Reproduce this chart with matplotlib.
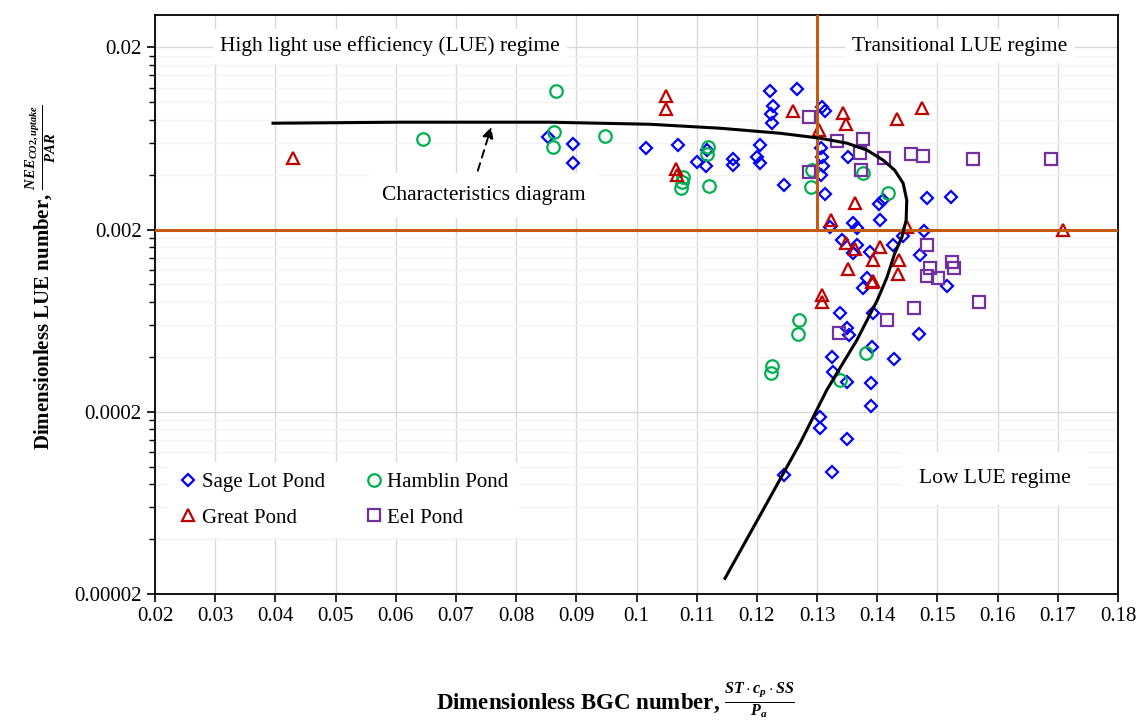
import numpy as np
import matplotlib
matplotlib.use("Agg")
import matplotlib.pyplot as plt
from matplotlib.ticker import FixedLocator, NullFormatter

plt.rcParams['font.family'] = ['Liberation Serif', 'DejaVu Serif']
plt.rcParams['mathtext.fontset'] = 'custom'
plt.rcParams['mathtext.it'] = 'Liberation Serif:bold:italic'
plt.rcParams['mathtext.rm'] = 'Liberation Serif:bold'
plt.rcParams['mathtext.bf'] = 'Liberation Serif:bold'

# ---- data (BGC number, LUE number) ----
sage_x = [0.0853, 0.0894, 0.0894, 0.1016, 0.1069, 0.1100, 0.1115, 0.1117, 0.1160, 0.1160,
          0.1205, 0.1200, 0.1205, 0.1222, 0.1227, 0.1223, 0.1225, 0.1267, 0.1245, 0.1308,
          0.1313, 0.1306, 0.1308, 0.1310, 0.1306, 0.1351, 0.1313, 0.1403, 0.1410, 0.1483,
          0.1522, 0.1405, 0.1360, 0.1366, 0.1321, 0.1478, 0.1341, 0.1366, 0.1360, 0.1388,
          0.1426, 0.1443, 0.1471, 0.1516, 0.1383, 0.1376, 0.1338, 0.1393, 0.1350, 0.1353,
          0.1469, 0.1391, 0.1428, 0.1325, 0.1326, 0.1350, 0.1390, 0.1390, 0.1305, 0.1305,
          0.1350, 0.1325, 0.1245]
sage_y = [0.00642, 0.00587, 0.00462, 0.00559, 0.00580, 0.00468, 0.00445, 0.00545, 0.00486, 0.00451,
          0.00580, 0.00498, 0.00462, 0.01147, 0.00949, 0.00858, 0.00766, 0.01177, 0.00350, 0.00938,
          0.00891, 0.00559, 0.00498, 0.00445, 0.00397, 0.00498, 0.00312, 0.00275, 0.00290, 0.00297,
          0.00301, 0.00225, 0.00217, 0.00203, 0.00206, 0.00196, 0.00175, 0.00164, 0.00148, 0.00150,
          0.00164, 0.00184, 0.00145, 0.000978, 0.00109, 0.000953, 0.000695, 0.000695, 0.000575, 0.000526,
          0.000533, 0.000452, 0.000389, 0.000399, 0.000330, 0.000291, 0.000287, 0.000215, 0.000187, 0.000163,
          0.000141, 0.0000933, 0.0000898]

hamblin_x = [0.0645, 0.0866, 0.0863, 0.0861, 0.0948, 0.1119, 0.1117, 0.1077, 0.1076, 0.1074,
             0.1120, 0.1292, 0.1290, 0.1376, 0.1418, 0.1270, 0.1268, 0.1225, 0.1223, 0.1381,
             0.1338]
hamblin_y = [0.00626, 0.01147, 0.00684, 0.00566, 0.00650, 0.00566, 0.00518, 0.00387, 0.00364, 0.00337,
             0.00346, 0.00423, 0.00341, 0.00407, 0.00316, 0.000636, 0.000533, 0.000356, 0.000326, 0.000419,
             0.000298]

great_x = [0.0429, 0.1049, 0.1049, 0.1066, 0.1067, 0.1260, 0.1303, 0.1343, 0.1348, 0.1433,
           0.1474, 0.1363, 0.1323, 0.1449, 0.1709, 0.1348, 0.1363, 0.1405, 0.1393, 0.1436,
           0.1434, 0.1351, 0.1393, 0.1391, 0.1308, 0.1308]
great_y = [0.00492, 0.01077, 0.00914, 0.00428, 0.00397, 0.00891, 0.00701, 0.00869, 0.00756, 0.00805,
           0.00926, 0.00279, 0.00225, 0.00206, 0.00198, 0.00168, 0.00156, 0.00160, 0.00136, 0.00136,
           0.00114, 0.00121, 0.00105, 0.00103, 0.000872, 0.000799]

eel_x = [0.1287, 0.1287, 0.1333, 0.1376, 0.1371, 0.1411, 0.1456, 0.1476, 0.1559, 0.1689,
         0.1373, 0.1483, 0.1488, 0.1483, 0.1501, 0.1524, 0.1527, 0.1569, 0.1461, 0.1416,
         0.1336]
eel_y = [0.00826, 0.00412, 0.00610, 0.00626, 0.00524, 0.00492, 0.00518, 0.00505, 0.00486, 0.00486,
         0.00423, 0.00164, 0.00123, 0.00111, 0.00109, 0.00132, 0.00123, 0.000799, 0.000740, 0.000636,
         0.000540]

# characteristics diagram curve
curve_x = [0.0396, 0.0607, 0.0856, 0.1022, 0.1139, 0.1238, 0.1305, 0.1350, 0.1383, 0.1410,
           0.1429, 0.1443, 0.1449, 0.1448, 0.1441, 0.1429, 0.1416, 0.1400, 0.1383, 0.1366,
           0.1343, 0.1316, 0.1272, 0.1210, 0.1147]
curve_y = [0.00766, 0.00776, 0.00776, 0.00756, 0.00719, 0.00675, 0.00634, 0.00595, 0.00545, 0.00480,
           0.00423, 0.00359, 0.00290, 0.00225, 0.00182, 0.00148, 0.00109, 0.000819, 0.000636, 0.000494,
           0.000370, 0.000263, 0.000135, 0.0000577, 0.0000244]

x_ticks = [0.02, 0.03, 0.04, 0.05, 0.06, 0.07, 0.08, 0.09, 0.1, 0.11, 0.12, 0.13, 0.14, 0.15, 0.16, 0.17, 0.18]
y_ticks = [0.00002, 0.0002, 0.002, 0.02]
y_tick_labels = ['0.00002', '0.0002', '0.002', '0.02']
bgc_threshold = 0.13
lue_threshold = 0.002

fig = plt.figure(figsize=(11.4, 7.21), dpi=100)
ax = fig.add_axes([0.136, 0.176, 0.8447, 0.803])

ax.set_yscale('log')
ax.set_xlim(0.02, 0.18)
ax.set_ylim(0.00002, 0.03)

# ticks & grid
ax.set_xticks(x_ticks)
ax.set_xticklabels([f'{t:g}' for t in x_ticks])
ax.yaxis.set_major_locator(FixedLocator(y_ticks))
ax.set_yticklabels(y_tick_labels)
minor_y = [m * 2 * 10.0 ** e for e in range(-5, -1) for m in range(2, 10)]
ax.yaxis.set_minor_locator(FixedLocator(minor_y))
ax.yaxis.set_minor_formatter(NullFormatter())
ax.tick_params(axis='both', which='major', labelsize=15, direction='out', length=6, width=1.2)
ax.tick_params(axis='y', which='minor', direction='out', length=4, width=1.0)
ax.tick_params(axis='x', which='minor', bottom=False)
ax.grid(True, which='major', axis='x', color='#D9D9D9', linewidth=1.0)
ax.grid(True, which='major', axis='y', color='#D9D9D9', linewidth=1.0)
ax.grid(True, which='minor', axis='y', color='#F3F3F3', linewidth=1.0)
ax.set_axisbelow(True)
for sp in ax.spines.values():
    sp.set_linewidth(1.3)

# regime borders
ax.axhline(lue_threshold, color='#C55A11', linewidth=2.2, zorder=4)
ax.plot([bgc_threshold, bgc_threshold], [lue_threshold, 0.03], color='#C55A11', linewidth=2.2, zorder=4)

# data
mk = dict(linestyle='none', markerfacecolor='none', markeredgewidth=1.6, zorder=3)
h_sage, = ax.plot(sage_x, sage_y, marker='D', markersize=6.5, markeredgecolor='#0000FF', label='Sage Lot Pond', **mk)
h_ham, = ax.plot(hamblin_x, hamblin_y, marker='o', markersize=9, markeredgecolor='#00B050', label='Hamblin Pond', **mk)
h_great, = ax.plot(great_x, great_y, marker='^', markersize=9, markeredgecolor='#C00000', label='Great Pond', **mk)
h_eel, = ax.plot(eel_x, eel_y, marker='s', markersize=8, markeredgecolor='#7030A0', label='Eel Pond', **mk)

ax.plot(curve_x, curve_y, color='black', linewidth=2.2, zorder=5)

# annotations
box = dict(boxstyle='square,pad=0.35', facecolor='white', edgecolor='none')
ax.text(0.244, 0.946, 'High light use efficiency (LUE) regime', transform=ax.transAxes,
        ha='center', va='center', fontsize=15.5, bbox=box, zorder=6)
ax.text(0.836, 0.946, 'Transitional LUE regime', transform=ax.transAxes,
        ha='center', va='center', fontsize=15.5, bbox=box, zorder=6)
ax.text(0.872, 0.200, 'Low LUE regime', transform=ax.transAxes,
        ha='center', va='center', fontsize=15.5,
        bbox=dict(boxstyle='square,pad=0.8', facecolor='white', edgecolor='none'), zorder=6)
ax.annotate('', xy=(0.0760, 0.00756), xytext=(0.0735, 0.00407),
            arrowprops=dict(arrowstyle='-|>', color='black', linestyle=(0, (4, 3)), linewidth=1.4,
                            mutation_scale=16), zorder=6)
ax.text(0.341, 0.689, 'Characteristics diagram', transform=ax.transAxes,
        ha='center', va='center', fontsize=15.5,
        bbox=dict(boxstyle='square,pad=0.6', facecolor='white', edgecolor='none'), zorder=6)

# column-wise fill: Sage/Great in col 1, Hamblin/Eel in col 2
leg = ax.legend(handles=[h_sage, h_great, h_ham, h_eel], loc='center left', bbox_to_anchor=(0.003, 0.162),
                ncol=2, fontsize=15, frameon=True, handletextpad=0.2, columnspacing=1.9,
                handlelength=0.9, borderpad=0.5, labelspacing=0.75)
leg.get_frame().set_edgecolor('none')
leg.get_frame().set_facecolor('white')
leg.get_frame().set_alpha(1.0)
leg.set_zorder(7)

ax.set_xlabel(r'Dimensionless BGC number, $\frac{ST\cdot c_p\cdot SS}{P_a}$', fontsize=16.5,
              fontweight='bold')
ax.xaxis.set_label_coords(0.478, -0.15)
ax.set_ylabel(r'Dimensionless LUE number, $\frac{NEE_{CO2,uptake}}{PAR}$', fontsize=15,
              fontweight='bold')
ax.yaxis.set_label_coords(-0.100, 0.547)

fig.savefig('out.png', dpi=100)
